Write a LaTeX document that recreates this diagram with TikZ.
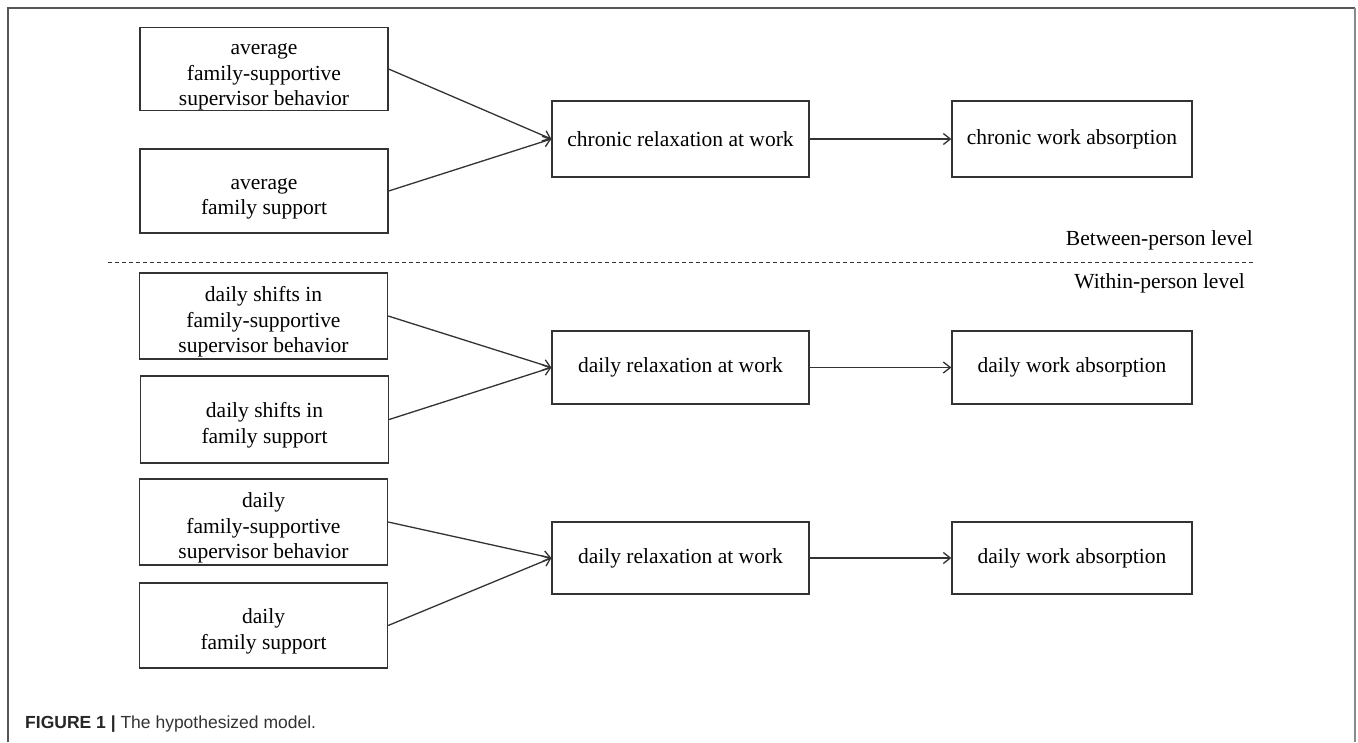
\documentclass[tikz,border=0pt]{standalone}
\usepackage{fontspec}
\setmainfont{Liberation Serif}
\newfontfamily\capfont{Liberation Sans}
\usetikzlibrary{arrows.meta}
\definecolor{boxline}{HTML}{333333}
\definecolor{frameline}{HTML}{555555}
\definecolor{frameright}{HTML}{8A8A8A}
\definecolor{captext}{HTML}{333333}
\newcommand{\topgap}{\rule{0pt}{27pt}}
\tikzset{
  var/.style={draw=boxline, line width=1.3pt, align=center, inner sep=0pt,
    font=\fontsize{21.5}{25.5}\selectfont, text=black},
  leftbox/.style={var, minimum width=248pt},
  midbox/.style={var, minimum width=257pt},
  rightbox/.style={var, minimum width=240pt},
  link/.style={draw=boxline, line width=1.3pt, -{Straight Barb[length=7pt,width=11pt,line width=1.3pt]}},
  levellabel/.style={anchor=east, inner sep=0pt, font=\fontsize{21.5}{25.5}\selectfont},
}
\begin{document}
\begin{tikzpicture}[x=1pt,y=-1pt]
\useasboundingbox (0,0) rectangle (1358,742);
\fill[white] (0,0) rectangle (1358,742);
% frame
\draw[frameline, line width=1.3pt] (8,742) -- (8,8) -- (1355,8);
\draw[frameright, line width=2pt] (1355,8) -- (1355,742);

% between-person
\node[leftbox, minimum height=82pt] (a1) at (264,69) {\topgap average\\family-supportive\\supervisor behavior};
\node[leftbox, minimum height=84pt] (a2) at (264,191) {\topgap average\\family support};
\node[midbox, minimum height=76pt] (cr) at (680.5,139) {chronic relaxation at work};
\node[rightbox, minimum height=76pt] (cwa) at (1072,139) {chronic work absorption};

% levels
\node[levellabel] (bpl) at (1253,240) {Between-person level};
\node[levellabel] (wpl) at (1245,283) {Within-person level};
\coordinate (dl) at (108,262);
\coordinate (dr) at (1253,262);
\draw[boxline, line width=1pt, dash pattern=on 4pt off 3pt] (dl) -- (dr);

% within-person, shifts
\node[leftbox, minimum height=86pt] (b1) at (263.5,316) {\topgap daily shifts in\\family-supportive\\supervisor behavior};
\node[leftbox, minimum height=87pt] (b2) at (264.5,419.5) {\topgap daily shifts in\\family support};
\node[midbox, minimum height=73pt] (dr1) at (680.5,367.5) {daily relaxation at work};
\node[rightbox, minimum height=73pt] (dwa1) at (1072,367.5) {daily work absorption};

% within-person, daily
\node[leftbox, minimum height=86pt] (c1) at (263.5,522) {\topgap daily\\family-supportive\\supervisor behavior};
\node[leftbox, minimum height=85pt] (c2) at (263.5,625.5) {\topgap daily\\family support};
\node[midbox, minimum height=72pt] (dr2) at (680.5,558) {daily relaxation at work};
\node[rightbox, minimum height=72pt] (dwa2) at (1072,558) {daily work absorption};

% connectors
\draw[link] (a1.east) -- (cr.west);
\draw[link] (a2.east) -- (cr.west);
\draw[link] (cr.east) -- (cwa.west);
\draw[link] (b1.east) -- (dr1.west);
\draw[link] (b2.east) -- (dr1.west);
\draw[link] (dr1.east) -- (dwa1.west);
\draw[link] (c1.east) -- (dr2.west);
\draw[link] (c2.east) -- (dr2.west);
\draw[link] (dr2.east) -- (dwa2.west);

% caption
\node[anchor=base west, inner sep=0pt, font=\capfont\fontsize{17.5}{20}\selectfont, text=captext] (cap) at (25,728)
  {\textbf{\color{black!85}FIGURE 1 |} The hypothesized model.};
\end{tikzpicture}
\end{document}
